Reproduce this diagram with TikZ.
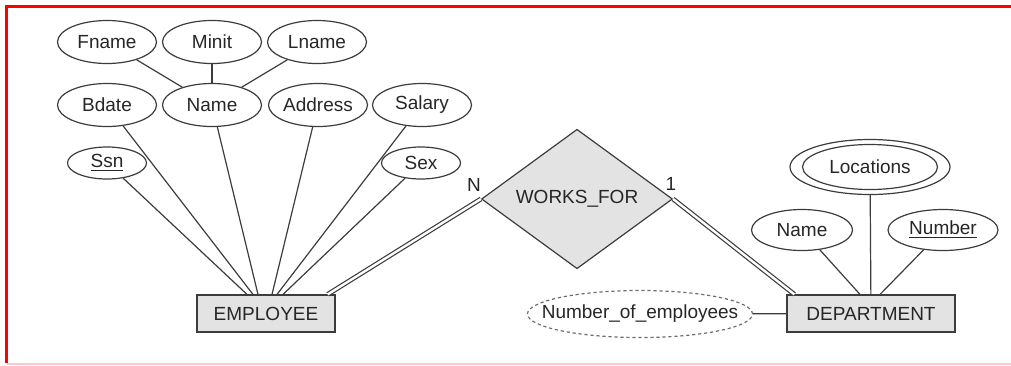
\documentclass[tikz,border=0pt]{standalone}
\usepackage{fontspec}
\setmainfont{Liberation Sans}
\usepackage{xcolor}
\usepackage{tikz}
\usetikzlibrary{shapes.geometric}
\definecolor{ink}{HTML}{3C3C3C}
\definecolor{boxfill}{HTML}{E3E3E3}

\begin{document}
\begin{tikzpicture}[x=0.5pt,y=-0.5pt,font=\fontsize{9.5}{11}\selectfont,text=black!85,
  attr/.style={ellipse,draw=ink,line width=0.6pt,inner sep=0pt,minimum width=49.5pt,minimum height=21.5pt},
  smallattr/.style={attr,minimum width=39.5pt,minimum height=16pt},
  entity/.style={rectangle,draw=ink,fill=boxfill,line width=0.6pt,inner sep=0pt},
  link/.style={ink,line width=0.6pt},
  total/.style={ink,line width=0.6pt,double=white,double distance=1.2pt}]
  \useasboundingbox (0,0) rectangle (1011,365);
  % frame
  \draw[red,line width=1.2pt] (1011,6.5) -- (6.5,6.5) -- (6.5,363);
  \draw[red!22,line width=1pt] (6.5,363.5) -- (1011,363.5);
  % employee side
  \node[attr] (fname) at (107,42) {Fname};
  \node[attr] (minit) at (212,42) {Minit};
  \node[attr] (lname) at (317,42) {Lname};
  \node[attr] (bdate) at (107,105) {Bdate};
  \node[attr] (name) at (212,105) {Name};
  \node[attr] (addr) at (318,105) {Address};
  \node[attr] (salary) at (422,105) {Salary};
  \node[smallattr] (ssn) at (107,163) {\underline{Ssn}};
  \node[smallattr] (sex) at (421,163) {Sex};
  \node[entity,minimum width=69pt,minimum height=18.5pt] (emp) at (266,313.5) {EMPLOYEE};
  % relationship
  \node[diamond,draw=ink,fill=boxfill,line width=0.6pt,inner sep=0pt,
        minimum width=95.5pt,minimum height=69pt] (wf) at (577,199) {WORKS\_FOR};
  \node (n) at (474,185) {N};
  \node (one) at (671,184) {1};
  % department side
  \node[entity,minimum width=84pt,minimum height=18.5pt] (dept) at (871,313.5) {DEPARTMENT};
  \node[ellipse,draw=ink,line width=0.6pt,minimum width=80pt,minimum height=27.5pt] (loc) at (870,167) {};
  \node[ellipse,draw=ink,line width=0.6pt,inner sep=0pt,minimum width=67.5pt,minimum height=22.5pt] (locin) at (870,167) {Locations};
  \node[attr,minimum width=50.5pt,minimum height=20.5pt] (dname) at (802,230) {Name};
  \node[attr,minimum width=55pt,minimum height=20.5pt] (dnum) at (943,230) {\underline{Number}};
  \node[ellipse,draw=ink!75,dash pattern=on 1.6pt off 1.4pt,line width=0.6pt,inner sep=0pt,
        minimum width=112.5pt,minimum height=23.5pt] (nemp) at (640,314) {\makebox[40pt]{Number\_of\_employees}};

  \draw[link] (fname) -- (name);
  \draw[link] (minit) -- (name);
  \draw[link] (lname) -- (name);
  \draw[link] (ssn) -- ([xshift=-9.5pt]emp.north);
  \draw[link] (bdate) -- ([xshift=-6.5pt]emp.north);
  \draw[link] (name) -- ([xshift=-4pt]emp.north);
  \draw[link] (addr) -- ([xshift=3pt]emp.north);
  \draw[link] (salary) -- ([xshift=5.5pt]emp.north);
  \draw[link] (sex) -- ([xshift=8.5pt]emp.north);
  \draw[total] ([xshift=-4pt]emp.north east) -- (wf.west);
  \draw[total] (wf.east) -- ([xshift=4pt]dept.north west);
  \draw[link] (dname) -- ([xshift=-5.5pt]dept.north);
  \draw[link] (loc) -- (dept);
  \draw[link] (dnum) -- ([xshift=4.5pt]dept.north);
  \draw[link] (nemp) -- (dept);
\end{tikzpicture}
\end{document}
